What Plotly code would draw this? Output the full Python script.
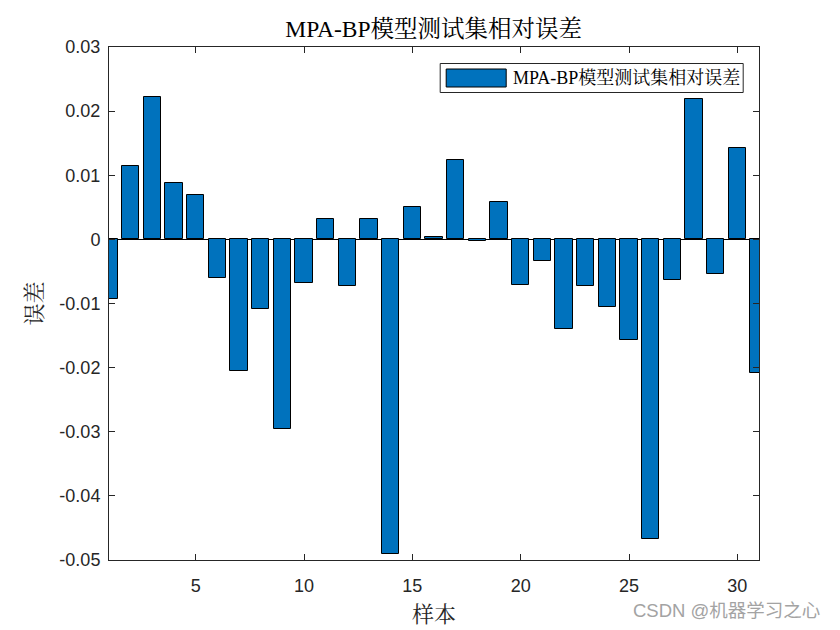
import plotly.graph_objects as go

# ---- data ----
samples = list(range(1, 32))
errors = [-0.00934, 0.01152, 0.02226, 0.00872, 0.00685, -0.00607, -0.02054, -0.01090,
          -0.02957, -0.00685, 0.00311, -0.00732, 0.00311, -0.04910, 0.00498, 0.00030,
          0.01245, -0.00030, 0.00590, -0.00716, -0.00342, -0.01400, -0.00732, -0.01058,
          -0.01572, -0.04670, -0.00633, 0.02195, -0.00545, 0.01432, -0.02086]
ytick_vals = [0.03, 0.02, 0.01, 0, -0.01, -0.02, -0.03, -0.04, -0.05]
ytick_text = ["0.03", "0.02", "0.01", "0", "-0.01", "-0.02", "-0.03", "-0.04", "-0.05"]
xtick_vals = [5, 10, 15, 20, 25, 30]
xtick_text = ["5", "10", "15", "20", "25", "30"]
series_name = "MPA-BP模型测试集相对误差"
title_text = "MPA-BP模型测试集相对误差"
xlabel = "样本"
ylabel = "误差"
watermark = "CSDN @机器学习之心"

# page is offset by the body margin (8px); work in page pixels
OFF = 8
W, H = 840 - OFF, 630 - OFF
PL, PR, PT, PB = 109.3, 759.3, 47, 560   # plot area in page pixels
L, T = PL - OFF, PT - OFF
R, B = W - (PR - OFF), H - (PB - OFF)
pw, ph = PR - PL, PB - PT

def px(x):
    return (x - PL) / pw

def py(y):
    return (PB - y) / ph

SERIF = "Liberation Serif, Times New Roman, Noto Serif CJK SC, Noto Sans CJK SC, serif"
SANS = "Liberation Sans, Arial, Noto Sans CJK SC, sans-serif"
AX = "#262626"
BLUE = "#0072BD"

fig = go.Figure()
fig.add_trace(go.Bar(
    x=samples, y=errors, name=series_name, width=0.8,
    marker=dict(color=BLUE, line=dict(color="black", width=1)),
    showlegend=False,
))

fig.update_layout(
    width=W, height=H,
    margin=dict(l=L, r=R, t=T, b=B, autoexpand=False),
    paper_bgcolor="white", plot_bgcolor="white",
    title=dict(text=title_text, x=px(434), xref="paper", xanchor="center",
               y=1 - (29 - OFF) / H, yref="container", yanchor="middle",
               font=dict(family=SERIF, size=23.5, color="black")),
    bargap=0,
)
fig.update_xaxes(
    range=[1, 31], tickvals=xtick_vals, ticktext=xtick_text,
    ticks="inside", ticklen=6, tickcolor=AX, tickwidth=1,
    showline=True, linecolor=AX, linewidth=1, mirror="ticks",
    showgrid=False, zeroline=False, ticklabelstandoff=9,
    tickfont=dict(family=SANS, size=18, color=AX),
    title=dict(text=xlabel, font=dict(family=SERIF, size=22, color=AX), standoff=12),
)
fig.update_yaxes(
    range=[-0.05, 0.03], tickvals=ytick_vals, ticktext=ytick_text,
    ticks="inside", ticklen=6, tickcolor=AX, tickwidth=1,
    showline=True, linecolor=AX, linewidth=1, mirror="ticks",
    showgrid=False, zeroline=True, zerolinecolor="black", zerolinewidth=1,
    ticklabelstandoff=4,
    tickfont=dict(family=SANS, size=18, color=AX),
    title=dict(text=ylabel, font=dict(family=SERIF, size=22, color=AX), standoff=10),
)

# legend drawn manually (MATLAB style)
fig.add_shape(type="rect", xref="paper", yref="paper",
              x0=px(440.5), x1=px(743.5), y0=py(92.5), y1=py(63.5),
              line=dict(color=AX, width=1), fillcolor="white", layer="above")
fig.add_shape(type="rect", xref="paper", yref="paper",
              x0=px(446.5), x1=px(506.5), y0=py(87), y1=py(69),
              line=dict(color="black", width=1), fillcolor=BLUE, layer="above")
fig.add_annotation(text=series_name, xref="paper", yref="paper",
                   x=px(511), y=py(78), xanchor="left", yanchor="middle",
                   showarrow=False, font=dict(family=SERIF, size=18, color="black"))

fig.add_annotation(text=watermark, xref="paper", yref="paper",
                   x=px(727), y=py(610), xanchor="center", yanchor="middle",
                   showarrow=False, font=dict(family=SANS, size=18.5, color="#a3a3a3"))

fig.write_html("out.html")
